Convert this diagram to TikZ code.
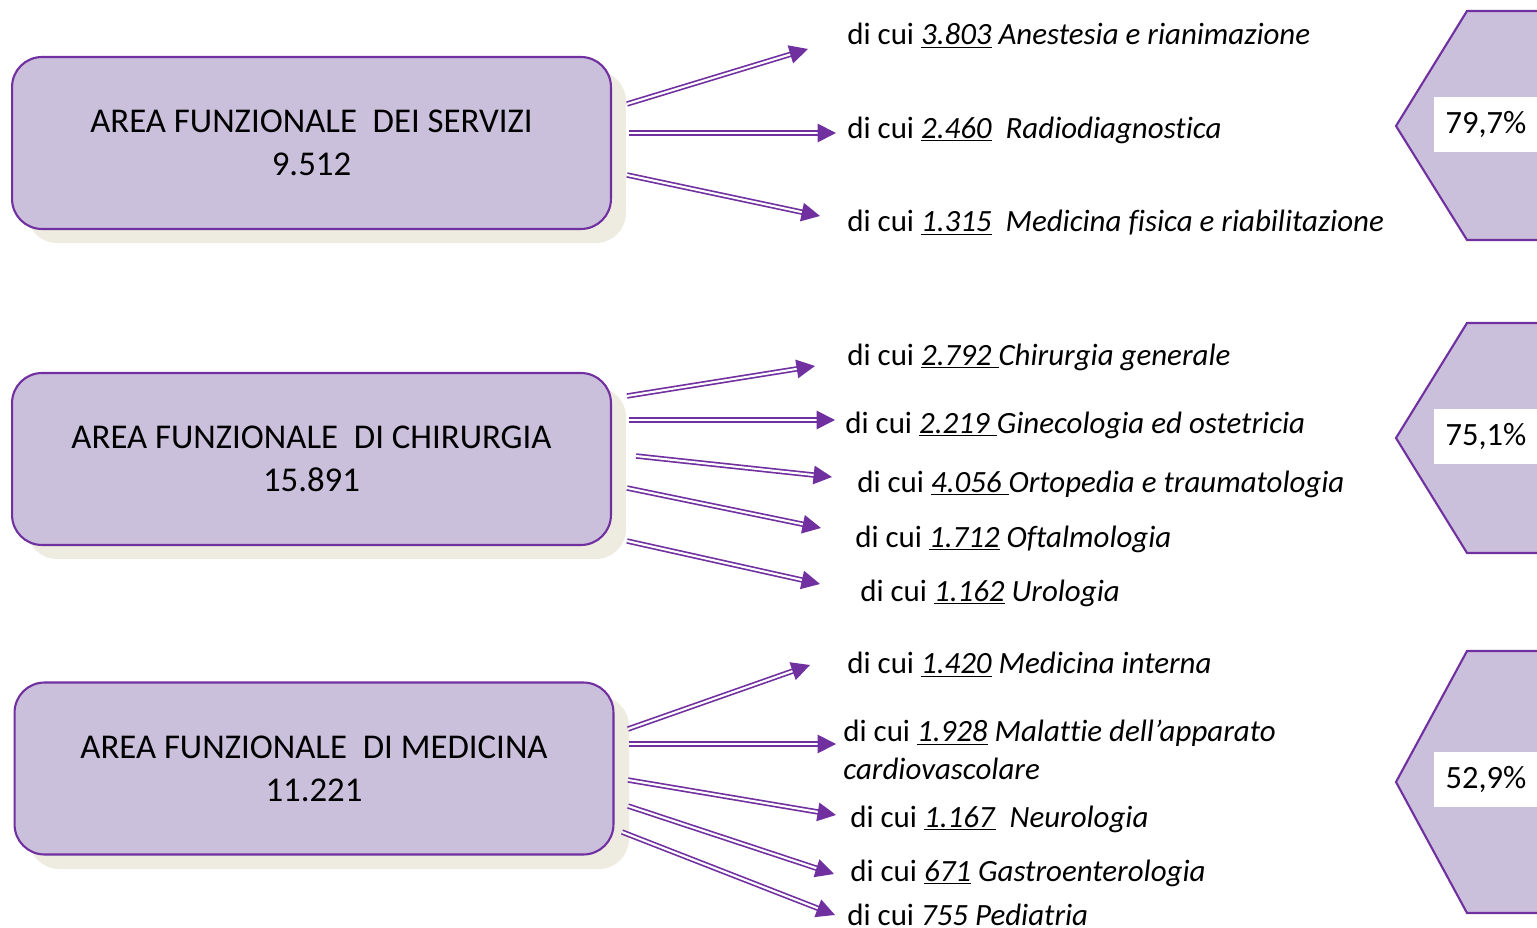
\documentclass[tikz,border=0pt]{standalone}
\usepackage{fontspec}
\setmainfont[Ligatures=NoCommon]{Carlito}
\usetikzlibrary{arrows.meta,calc}
\definecolor{purp}{RGB}{112,48,160}
\definecolor{lilac}{RGB}{203,192,220}
\definecolor{shadowgray}{RGB}{238,236,225}

\begin{document}
\begin{tikzpicture}[x=0.02cm, y=-0.02cm,
  area/.style={draw=purp, line width=1.2pt, fill=lilac, rounded corners=0.6cm, minimum width=11.98cm, minimum height=3.44cm, align=center, font=\fontsize{19.8}{24.4}\selectfont},
  lab/.style={anchor=west, inner sep=0pt, align=left, font=\fontsize{17.6}{21.5}\selectfont},
  pct/.style={fill=white, minimum width=2.1cm, minimum height=1.1cm, inner sep=0pt, font=\fontsize{18.5}{20}\selectfont},
  shaft/.style={draw=purp, line width=0.95pt, double=white, double distance=1.2pt, shorten >=8pt},
  tip/.style={purp, line width=1pt, -{Triangle[length=10.5pt,width=10.5pt]}},
]
  \useasboundingbox (0,0) rectangle (1537,928);

  % shadows behind the area boxes
  \fill[shadowgray, rounded corners=0.6cm] (27,71) rectangle (626,243);
  \fill[shadowgray, rounded corners=0.6cm] (27,387) rectangle (626,559);
  \fill[shadowgray, rounded corners=0.6cm] (29,696) rectangle (629,869);

  \node[area] (serv) at (311.5,143) {AREA FUNZIONALE\ \ DEI SERVIZI\\9.512};
  \node[area] (chir) at (311.5,459) {AREA FUNZIONALE\ \ DI CHIRURGIA\\15.891};
  \node[area] (med) at (314,768.5) {AREA FUNZIONALE\ \ DI MEDICINA\\11.221};

  % percentage hexagons (cut at the right edge)
  \filldraw[fill=lilac, draw=purp, line width=1.2pt] (1545,11) -- (1467,11) -- (1396,126) -- (1467,240) -- (1545,240);
  \filldraw[fill=lilac, draw=purp, line width=1.2pt] (1545,323) -- (1467,323) -- (1396,438) -- (1467,553) -- (1545,553);
  \filldraw[fill=lilac, draw=purp, line width=1.2pt] (1545,651) -- (1467,651) -- (1396,782) -- (1467,913) -- (1545,913);
  \node[pct] (p1) at (1486,125) {79,7\%};
  \node[pct] (p2) at (1486,436.5) {75,1\%};
  \node[pct] (p3) at (1486,779.5) {52,9\%};

  \node[lab] (s1) at (847,36) {di cui \underline{\textit{3.803}} \textit{Anestesia e rianimazione}};
  \node[lab] (s2) at (847,130) {di cui \underline{\textit{2.460}}\ \ \textit{Radiodiagnostica}};
  \node[lab] (s3) at (847,223) {di cui \underline{\textit{1.315}}\ \ \textit{Medicina fisica e riabilitazione}};
  \node[lab] (c1) at (847,357) {di cui \underline{\textit{2.792\ }}\textit{Chirurgia generale}};
  \node[lab] (c2) at (845,425) {di cui \underline{\textit{2.219\ }}\textit{Ginecologia ed ostetricia}};
  \node[lab] (c3) at (857,484) {di cui \underline{\textit{4.056\ }}\textit{Ortopedia e traumatologia}};
  \node[lab] (c4) at (855,539) {di cui \underline{\textit{1.712}} \textit{Oftalmologia}};
  \node[lab] (c5) at (860,593) {di cui \underline{\textit{1.162}} \textit{Urologia}};
  \node[lab] (m1) at (847,665) {di cui \underline{\textit{1.420}} \textit{Medicina interna}};
  \node[lab] (m2) at (843,750) {di cui \underline{\textit{1.928}} \textit{Malattie dell’apparato}\\\textit{cardiovascolare}};
  \node[lab] (m3) at (850,819) {di cui \underline{\textit{1.167}}\ \ \textit{Neurologia}};
  \node[lab] (m4) at (850,873) {di cui \underline{\textit{671}} \textit{Gastroenterologia}};
  \node[lab] (m5) at (847,915) {di cui \textit{755 Pediatria}};

  % double-line arrows
  \foreach \n/\sx/\sy/\tx/\ty in {1/627/104/808/49, 2/629/133/836/133, 3/627/175/820/216,
      4/627/396/815/366, 5/629/420/835/420, 6/636/456/832/477, 7/627/488/821/528, 8/627/541/820/584,
      9/628/729/810/665, 10/629/744/836/744, 11/628/780/836/815, 12/628/806/834/874, 13/622/832/835/915} {
    \coordinate (a\n) at (\sx,\sy);
    \coordinate (b\n) at (\tx,\ty);
    \draw[shaft] (a\n) -- (b\n);
    \draw[tip] ($(b\n)!10pt!(a\n)$) -- (b\n);
  }
\end{tikzpicture}
\end{document}
